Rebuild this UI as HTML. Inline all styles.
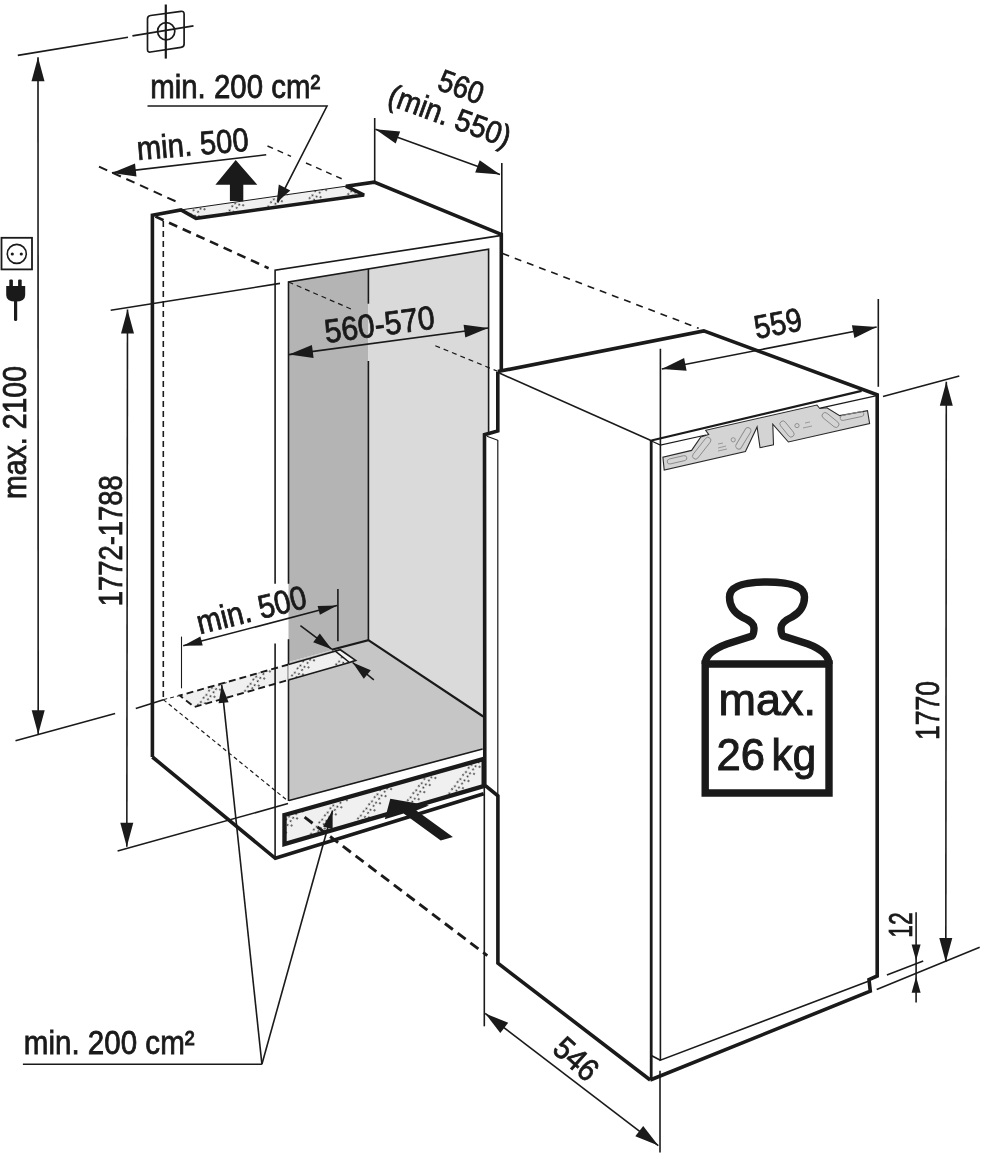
<!DOCTYPE html>
<html><head><meta charset="utf-8">
<style>
html,body{margin:0;padding:0;background:#fff;width:983px;height:1160px;overflow:hidden}
svg{display:block;will-change:transform}
text{font-family:"Liberation Sans",sans-serif;fill:#1a1a1a}
</style></head><body>
<svg width="983" height="1160" viewBox="0 0 983 1160">
<defs>
<pattern id="dots" width="28" height="9" patternUnits="userSpaceOnUse" patternTransform="rotate(38)">
<rect width="28" height="9" fill="#f0f0f0"/>
<circle cx="2" cy="1.5" r="0.95" fill="#333"/><circle cx="6.5" cy="0" r="0.95" fill="#333"/><circle cx="6.5" cy="5" r="0.95" fill="#333"/><circle cx="2.5" cy="6.5" r="0.95" fill="#333"/><circle cx="10" cy="3" r="0.95" fill="#333"/><circle cx="6.5" cy="9" r="0.95" fill="#333"/>
</pattern>
</defs>
<polygon points="288.5,282.0 368.4,269.0 368.4,640.2 288.5,662.0" fill="#b4b4b4"/>
<polygon points="368.4,269.0 488.6,249.3 488.6,720.0 368.4,640.2" fill="#dadada"/>
<polygon points="288.5,662.0 368.4,640.2 488.0,719.5 488.0,748.0 288.5,801.0" fill="#c6c6c6"/>
<polygon points="497.8,371.6 651.7,440.0 651.7,1080.0 497.9,963.0 497.9,796.0 484.8,785.0 484.3,434.7 497.8,431.0" fill="#fff"/>
<polygon points="181.0,209.9 346.0,186.2 364.0,195.0 196.0,218.3" fill="url(#dots)"/>
<polygon points="179.8,695.5 336.5,650.0 353.0,661.5 194.3,707.0" fill="url(#dots)"/>
<polygon points="284.5,815.0 483.7,759.0 483.7,786.0 284.5,844.0" fill="url(#dots)"/>
<path d="M17.8,55.4 L128.0,37.2" fill="none" stroke="#1a1a1a" stroke-width="1.6" stroke-linecap="butt" stroke-linejoin="miter" stroke-miterlimit="2.5"/>
<path d="M132.4,35.8 L193.5,25.9" fill="none" stroke="#1a1a1a" stroke-width="1.8" stroke-linecap="butt" stroke-linejoin="miter" stroke-miterlimit="2.5"/>
<path d="M165.8,4.5 L165.8,58.6" fill="none" stroke="#1a1a1a" stroke-width="2.2" stroke-linecap="butt" stroke-linejoin="miter" stroke-miterlimit="2.5"/>
<path d="M150.5,15.5 L181,11.3 Q184.1,10.9 184.1,14 L184.1,44 Q184.1,47 181,47.3 L150.5,52 Q147.5,52.4 147.5,49.4 L147.5,18.9 Q147.5,15.9 150.5,15.5 Z" fill="none" stroke="#1a1a1a" stroke-width="1.7"/>
<circle cx="166.2" cy="31.3" r="8.6" fill="none" stroke="#1a1a1a" stroke-width="1.7"/>
<path d="M38.0,57.2 L38.2,734.3" fill="none" stroke="#1a1a1a" stroke-width="1.6" stroke-linecap="butt" stroke-linejoin="miter" stroke-miterlimit="2.5"/>
<polygon points="38.0,57.2 31.5,81.2 44.5,81.2" fill="#1a1a1a"/>
<polygon points="38.2,734.3 44.7,710.3 31.7,710.3" fill="#1a1a1a"/>
<path d="M15.5,740.7 L115.1,713.5" fill="none" stroke="#1a1a1a" stroke-width="1.6" stroke-linecap="butt" stroke-linejoin="miter" stroke-miterlimit="2.5"/>
<path d="M135.8,708.4 L163.4,699.7" fill="none" stroke="#1a1a1a" stroke-width="1.6" stroke-linecap="butt" stroke-linejoin="miter" stroke-miterlimit="2.5"/>
<text transform="translate(26.0,499.0) rotate(-90)" font-size="33" textLength="133" lengthAdjust="spacingAndGlyphs" stroke="#1a1a1a" stroke-width="0.8" >max. 2100</text>
<rect x="1.5" y="237.8" width="30.5" height="31.6" fill="none" stroke="#1a1a1a" stroke-width="1.8"/>
<circle cx="16.8" cy="253.9" r="9.5" fill="none" stroke="#1a1a1a" stroke-width="1.6"/>
<circle cx="12.3" cy="254" r="1.6" fill="#1a1a1a"/><circle cx="21.3" cy="254" r="1.6" fill="#1a1a1a"/>
<rect x="9.3" y="279.4" width="3.6" height="9" rx="1.2" fill="#1a1a1a"/><rect x="18.1" y="279.4" width="3.6" height="9" rx="1.2" fill="#1a1a1a"/>
<path d="M6.2,286 L25.2,286 L25.2,295 Q25.2,301.6 15.7,301.6 Q6.2,301.6 6.2,295 Z" fill="#1a1a1a"/>
<rect x="14" y="299" width="3.2" height="22" rx="1.6" fill="#1a1a1a"/>
<path d="M127.5,309.5 L126.8,846.8" fill="none" stroke="#1a1a1a" stroke-width="1.6" stroke-linecap="butt" stroke-linejoin="miter" stroke-miterlimit="2.5"/>
<polygon points="127.5,309.5 121.0,333.5 134.0,333.5" fill="#1a1a1a"/>
<polygon points="126.8,846.8 133.3,822.8 120.3,822.8" fill="#1a1a1a"/>
<path d="M110.7,310.3 L280.0,283.4" fill="none" stroke="#1a1a1a" stroke-width="1.6" stroke-linecap="butt" stroke-linejoin="miter" stroke-miterlimit="2.5"/>
<path d="M117.6,851.1 L288.0,803.6" fill="none" stroke="#1a1a1a" stroke-width="1.6" stroke-linecap="butt" stroke-linejoin="miter" stroke-miterlimit="2.5"/>
<text transform="translate(121.6,606.2) rotate(-90)" font-size="34" textLength="131" lengthAdjust="spacingAndGlyphs" stroke="#1a1a1a" stroke-width="0.8" >1772-1788</text>
<path d="M147.5,106.0 L327.0,106.0 L277.7,202.6" fill="none" stroke="#1a1a1a" stroke-width="1.6" stroke-linecap="butt" stroke-linejoin="miter" stroke-miterlimit="2.5"/>
<polygon points="276.7,202.5 290.3,190.4 278.8,184.4" fill="#1a1a1a"/>
<text transform="translate(150.2,97.6)" font-size="33" textLength="170" lengthAdjust="spacingAndGlyphs" stroke="#1a1a1a" stroke-width="0.8" >min. 200 cm²</text>
<path d="M111.9,172.9 L266.2,154.8" fill="none" stroke="#1a1a1a" stroke-width="1.6" stroke-linecap="butt" stroke-linejoin="miter" stroke-miterlimit="2.5"/>
<polygon points="111.9,172.9 136.5,176.6 135.0,163.6" fill="#1a1a1a"/>
<path d="M99.0,166.6 L178.5,202.6" fill="none" stroke="#1a1a1a" stroke-width="2.0" stroke-dasharray="9,6" stroke-linecap="butt" stroke-linejoin="miter" stroke-miterlimit="2.5"/>
<path d="M267.5,146.0 L291.0,156.4" fill="none" stroke="#1a1a1a" stroke-width="1.4" stroke-dasharray="6,5" stroke-linecap="butt" stroke-linejoin="miter" stroke-miterlimit="2.5"/>
<path d="M306.0,163.0 L343.8,179.7" fill="none" stroke="#1a1a1a" stroke-width="1.4" stroke-dasharray="6,5" stroke-linecap="butt" stroke-linejoin="miter" stroke-miterlimit="2.5"/>
<text transform="translate(137.8,159.9) rotate(-4.7)" font-size="33" textLength="112" lengthAdjust="spacingAndGlyphs" stroke="#1a1a1a" stroke-width="0.8" >min. 500</text>
<polygon points="235.7,160.0 257.3,184.8 243.3,184.8 243.3,201.0 229.9,201.0 229.9,184.8 215.4,184.8" fill="#1a1a1a"/>
<path d="M374.7,118.0 L374.7,182.0" fill="none" stroke="#1a1a1a" stroke-width="1.6" stroke-linecap="butt" stroke-linejoin="miter" stroke-miterlimit="2.5"/>
<path d="M501.8,163.0 L501.8,234.0" fill="none" stroke="#1a1a1a" stroke-width="1.6" stroke-linecap="butt" stroke-linejoin="miter" stroke-miterlimit="2.5"/>
<path d="M375.4,129.3 L500.0,174.6" fill="none" stroke="#1a1a1a" stroke-width="1.6" stroke-linecap="butt" stroke-linejoin="miter" stroke-miterlimit="2.5"/>
<polygon points="375.4,129.3 395.7,143.6 400.2,131.4" fill="#1a1a1a"/>
<polygon points="500.0,174.6 479.7,160.3 475.2,172.5" fill="#1a1a1a"/>
<text transform="translate(436.0,89.0) rotate(20)" font-size="31" textLength="46" lengthAdjust="spacingAndGlyphs" stroke="#1a1a1a" stroke-width="0.8" >560</text>
<text transform="translate(386.0,104.0) rotate(20)" font-size="31" textLength="128" lengthAdjust="spacingAndGlyphs" stroke="#1a1a1a" stroke-width="0.8" >(min. 550)</text>
<path d="M181.0,209.9 L346.0,186.2" fill="none" stroke="#1a1a1a" stroke-width="1.0" stroke-linecap="butt" stroke-linejoin="miter" stroke-miterlimit="2.5"/>
<path d="M152.4,757.0 L152.4,215.2 L181.0,209.9 L196.0,218.3 L364.0,195.0 L346.0,186.2 L374.2,182.2 L501.3,234.4 L501.3,370.0" fill="none" stroke="#1a1a1a" stroke-width="3.6" stroke-linecap="butt" stroke-linejoin="miter" stroke-miterlimit="2.5"/>
<path d="M155.4,216.5 L268.6,268.2" fill="none" stroke="#1a1a1a" stroke-width="2.6" stroke-dasharray="9,6" stroke-linecap="butt" stroke-linejoin="miter" stroke-miterlimit="2.5"/>
<path d="M163.3,221.0 L163.3,699.6" fill="none" stroke="#1a1a1a" stroke-width="1.6" stroke-dasharray="6,4" stroke-linecap="butt" stroke-linejoin="miter" stroke-miterlimit="2.5"/>
<path d="M163.3,699.6 L288.0,801.0" fill="none" stroke="#1a1a1a" stroke-width="1.2" stroke-dasharray="4,3" stroke-linecap="butt" stroke-linejoin="miter" stroke-miterlimit="2.5"/>
<path d="M163.3,699.6 L180.0,695.5" fill="none" stroke="#1a1a1a" stroke-width="1.0" stroke-dasharray="4,3" stroke-linecap="butt" stroke-linejoin="miter" stroke-miterlimit="2.5"/>
<path d="M502.6,253.5 L698.7,328.3" fill="none" stroke="#1a1a1a" stroke-width="1.6" stroke-dasharray="7,6" stroke-linecap="butt" stroke-linejoin="miter" stroke-miterlimit="2.5"/>
<path d="M288.5,583.8 L288.5,282.0 L488.6,249.3 L488.6,435.0" fill="none" stroke="#1a1a1a" stroke-width="1.6" stroke-linecap="butt" stroke-linejoin="miter" stroke-miterlimit="2.5"/>
<path d="M288.5,639.2 L288.5,801.0" fill="none" stroke="#1a1a1a" stroke-width="1.6" stroke-linecap="butt" stroke-linejoin="miter" stroke-miterlimit="2.5"/>
<path d="M368.4,269.0 L368.4,303.7" fill="none" stroke="#1a1a1a" stroke-width="1.6" stroke-linecap="butt" stroke-linejoin="miter" stroke-miterlimit="2.5"/>
<path d="M368.4,361.0 L368.4,640.2" fill="none" stroke="#1a1a1a" stroke-width="1.6" stroke-linecap="butt" stroke-linejoin="miter" stroke-miterlimit="2.5"/>
<path d="M331.7,649.8 L368.4,640.2 L483.2,716.5" fill="none" stroke="#1a1a1a" stroke-width="2.2" stroke-linecap="butt" stroke-linejoin="miter" stroke-miterlimit="2.5"/>
<path d="M289.0,800.4 L482.6,749.0" fill="none" stroke="#1a1a1a" stroke-width="1.6" stroke-linecap="butt" stroke-linejoin="miter" stroke-miterlimit="2.5"/>
<path d="M288.5,282.0 L351.0,309.0" fill="none" stroke="#1a1a1a" stroke-width="1.2" stroke-dasharray="5,4" stroke-linecap="butt" stroke-linejoin="miter" stroke-miterlimit="2.5"/>
<path d="M435.3,345.7 L497.0,371.0" fill="none" stroke="#1a1a1a" stroke-width="1.2" stroke-dasharray="5,4" stroke-linecap="butt" stroke-linejoin="miter" stroke-miterlimit="2.5"/>
<path d="M289.0,354.6 L488.2,328.0" fill="none" stroke="#1a1a1a" stroke-width="1.6" stroke-linecap="butt" stroke-linejoin="miter" stroke-miterlimit="2.5"/>
<polygon points="289.0,354.6 313.6,357.9 311.9,345.0" fill="#1a1a1a"/>
<polygon points="488.2,328.0 463.6,324.7 465.3,337.6" fill="#1a1a1a"/>
<text transform="translate(326.0,343.0) rotate(-7.6)" font-size="33" textLength="111" lengthAdjust="spacingAndGlyphs" stroke="#1a1a1a" stroke-width="0.8" >560-570</text>
<path d="M288.5,664.5 L179.8,695.5 L194.3,707.0 L288.5,680.0" fill="none" stroke="#1a1a1a" stroke-width="1.9" stroke-dasharray="7,4" stroke-linecap="butt" stroke-linejoin="miter" stroke-miterlimit="2.5"/>
<polygon points="288.5,664.5 340.3,649.8 355.6,660.4 349.5,662.5 288.5,680.0" fill="#f4f4f4"/>
<polygon points="288.5,664.5 335.0,650.8 349.5,662.5 288.5,680.0" fill="url(#dots)"/>
<path d="M288.5,664.5 L340.3,649.8 L355.6,660.4 L349.5,662.5 L288.5,680.0" fill="none" stroke="#1a1a1a" stroke-width="1.7" stroke-linecap="butt" stroke-linejoin="miter" stroke-miterlimit="2.5"/>
<path d="M335.0,650.8 L349.5,662.5" fill="none" stroke="#1a1a1a" stroke-width="1.5" stroke-linecap="butt" stroke-linejoin="miter" stroke-miterlimit="2.5"/>
<path d="M275.1,858.3 L275.1,643.4" fill="none" stroke="#1a1a1a" stroke-width="1.6" stroke-linecap="butt" stroke-linejoin="miter" stroke-miterlimit="2.5"/>
<path d="M275.1,583.8 L275.1,270.2 L500.2,235.6" fill="none" stroke="#1a1a1a" stroke-width="1.6" stroke-linecap="butt" stroke-linejoin="miter" stroke-miterlimit="2.5"/>
<path d="M181.5,636.6 L181.5,688.3" fill="none" stroke="#1a1a1a" stroke-width="1.1" stroke-linecap="butt" stroke-linejoin="miter" stroke-miterlimit="2.5"/>
<path d="M337.9,589.0 L337.9,641.2" fill="none" stroke="#1a1a1a" stroke-width="1.6" stroke-linecap="butt" stroke-linejoin="miter" stroke-miterlimit="2.5"/>
<path d="M183.2,645.8 L337.1,605.6" fill="none" stroke="#1a1a1a" stroke-width="1.6" stroke-linecap="butt" stroke-linejoin="miter" stroke-miterlimit="2.5"/>
<polygon points="183.2,645.8 202.7,645.4 200.4,636.6" fill="#1a1a1a"/>
<polygon points="337.1,605.6 317.6,606.0 319.9,614.8" fill="#1a1a1a"/>
<text transform="translate(199.8,634.3) rotate(-13.9)" font-size="33" textLength="112" lengthAdjust="spacingAndGlyphs" stroke="#1a1a1a" stroke-width="0.8" >min. 500</text>
<path d="M300.4,625.6 L331.7,649.2" fill="none" stroke="#1a1a1a" stroke-width="1.6" stroke-linecap="butt" stroke-linejoin="miter" stroke-miterlimit="2.5"/>
<polygon points="331.7,649.2 319.8,633.4 313.2,642.2" fill="#1a1a1a"/>
<path d="M373.8,679.8 L352.6,662.5" fill="none" stroke="#1a1a1a" stroke-width="1.6" stroke-linecap="butt" stroke-linejoin="miter" stroke-miterlimit="2.5"/>
<polygon points="352.6,662.5 363.8,678.8 370.8,670.3" fill="#1a1a1a"/>
<path d="M261.9,1064.2 L221.7,684.9" fill="none" stroke="#1a1a1a" stroke-width="1.6" stroke-linecap="butt" stroke-linejoin="miter" stroke-miterlimit="2.5"/>
<polygon points="221.7,684.9 218.6,703.3 228.6,702.3" fill="#1a1a1a"/>
<path d="M284.5,815.0 L483.7,759.0 L483.7,786.0 L284.5,844.0 Z" fill="none" stroke="#1a1a1a" stroke-width="4.4" stroke-linecap="butt" stroke-linejoin="miter" stroke-miterlimit="2.5"/>
<path d="M152.4,757.0 L275.3,858.3 L483.7,793.7" fill="none" stroke="#1a1a1a" stroke-width="3.6" stroke-linecap="butt" stroke-linejoin="miter" stroke-miterlimit="2.5"/>
<path d="M304.6,817.2 L487.3,955.6" fill="none" stroke="#1a1a1a" stroke-width="2.9" stroke-dasharray="10,6" stroke-linecap="butt" stroke-linejoin="miter" stroke-miterlimit="2.5"/>
<path d="M261.9,1064.2 L332.6,810.5" fill="none" stroke="#1a1a1a" stroke-width="1.6" stroke-linecap="butt" stroke-linejoin="miter" stroke-miterlimit="2.5"/>
<polygon points="332.6,810.5 323.0,826.5 332.6,829.2" fill="#1a1a1a"/>
<polygon points="390.3,798.8 429.0,805.4 416.3,810.5 452.9,837.0 440.7,840.5 403.6,813.6 384.8,819.2" fill="#1a1a1a"/>
<path d="M22.9,1064.2 L261.9,1064.2" fill="none" stroke="#1a1a1a" stroke-width="1.6" stroke-linecap="butt" stroke-linejoin="miter" stroke-miterlimit="2.5"/>
<text transform="translate(23.8,1054.0)" font-size="33" textLength="170.8" lengthAdjust="spacingAndGlyphs" stroke="#1a1a1a" stroke-width="0.8" >min. 200 cm²</text>
<path d="M497.8,371.6 L703.8,330.9 L877.2,394.7 L877.2,976.0 L869.0,979.7 L870.3,991.2 L650.2,1080.0" fill="none" stroke="#1a1a1a" stroke-width="3.6" stroke-linecap="butt" stroke-linejoin="miter" stroke-miterlimit="2.5"/>
<path d="M497.8,371.6 L497.8,431.0 L484.5,434.7 L484.8,785.2 L497.9,795.8 L497.9,963.2 L650.2,1080.0" fill="none" stroke="#1a1a1a" stroke-width="3.6" stroke-linecap="butt" stroke-linejoin="miter" stroke-miterlimit="2.5"/>
<path d="M651.2,440.0 L651.2,1080.0" fill="none" stroke="#1a1a1a" stroke-width="2.8" stroke-linecap="butt" stroke-linejoin="miter" stroke-miterlimit="2.5"/>
<path d="M651.4,440.5 L861.6,390.8" fill="none" stroke="#1a1a1a" stroke-width="2.3" stroke-linecap="butt" stroke-linejoin="miter" stroke-miterlimit="2.5"/>
<path d="M499.3,373.1 L651.0,440.5" fill="none" stroke="#1a1a1a" stroke-width="1.6" stroke-linecap="butt" stroke-linejoin="miter" stroke-miterlimit="2.5"/>
<path d="M497.8,440.0 L497.8,796.0" fill="none" stroke="#1a1a1a" stroke-width="1.2" stroke-linecap="butt" stroke-linejoin="miter" stroke-miterlimit="2.5"/>
<path d="M486.9,436.2 L497.8,440.3" fill="none" stroke="#1a1a1a" stroke-width="1.2" stroke-linecap="butt" stroke-linejoin="miter" stroke-miterlimit="2.5"/>
<path d="M660.4,348.7 L660.4,1060.2 L869.0,981.0" fill="none" stroke="#1a1a1a" stroke-width="1.6" stroke-linecap="butt" stroke-linejoin="miter" stroke-miterlimit="2.5"/>
<path d="M651.3,1055.5 L660.4,1060.2" fill="none" stroke="#1a1a1a" stroke-width="1.6" stroke-linecap="butt" stroke-linejoin="miter" stroke-miterlimit="2.5"/>
<path d="M651.5,441.0 L660.4,445.0 L706.0,435.0" fill="none" stroke="#1a1a1a" stroke-width="1.2" stroke-linecap="butt" stroke-linejoin="miter" stroke-miterlimit="2.5"/>
<path d="M820.2,408.1 L876.8,395.7" fill="none" stroke="#1a1a1a" stroke-width="1.2" stroke-linecap="butt" stroke-linejoin="miter" stroke-miterlimit="2.5"/>
<polygon points="664.2,470.0 662.9,457.1 691.6,450.4 700.8,437.0 708.7,434.5 705.7,430.3 816.9,405.0 819.8,408.5 826.9,407.8 839.7,415.6 867.5,410.6 869.6,423.5 788.4,442.0 772.8,424.2 773.5,444.8 760.0,447.7 757.1,427.0 745.4,451.6" fill="#d4d4d4" stroke="#2a2a2a" stroke-width="1.1"/>
<rect x="-13.0" y="-3.0" width="26.0" height="6.0" rx="3.0" transform="translate(701.7,448.2) rotate(-52)" fill="none" stroke="#8a8a8a" stroke-width="0.9"/>
<rect x="-12.0" y="-3.0" width="24.0" height="6.0" rx="3.0" transform="translate(743.4,438.3) rotate(-59)" fill="none" stroke="#8a8a8a" stroke-width="0.9"/>
<rect x="-9.5" y="-3.0" width="19.0" height="6.0" rx="3.0" transform="translate(787,429) rotate(51)" fill="none" stroke="#8a8a8a" stroke-width="0.9"/>
<rect x="-10.0" y="-3.0" width="20.0" height="6.0" rx="3.0" transform="translate(830.5,420) rotate(39)" fill="none" stroke="#8a8a8a" stroke-width="0.9"/>
<rect x="-10.0" y="-2.5" width="20.0" height="5.0" rx="2.5" transform="translate(677,459.8) rotate(-13)" fill="none" stroke="#8a8a8a" stroke-width="0.9"/>
<rect x="-12.0" y="-2.5" width="24.0" height="5.0" rx="2.5" transform="translate(852,416) rotate(-12)" fill="none" stroke="#8a8a8a" stroke-width="0.9"/>
<circle cx="733.2" cy="439.8" r="2.1" fill="none" stroke="#8a8a8a" stroke-width="0.9"/>
<circle cx="797" cy="425.6" r="2.1" fill="none" stroke="#8a8a8a" stroke-width="0.9"/>
<path d="M718,444 l5,-1 M718,448 l8,-2 M718,451 l9,-2 M803,428 l9,-2 M805,423 l5,-1" stroke="#999" stroke-width="1"/>
<path d="M878.3,299.0 L878.3,386.8" fill="none" stroke="#1a1a1a" stroke-width="1.6" stroke-linecap="butt" stroke-linejoin="miter" stroke-miterlimit="2.5"/>
<path d="M661.8,369.0 L876.7,327.0" fill="none" stroke="#1a1a1a" stroke-width="1.6" stroke-linecap="butt" stroke-linejoin="miter" stroke-miterlimit="2.5"/>
<polygon points="661.8,369.0 686.6,370.8 684.1,358.0" fill="#1a1a1a"/>
<polygon points="876.7,327.0 851.9,325.2 854.4,338.0" fill="#1a1a1a"/>
<text transform="translate(756.5,339.0) rotate(-11)" font-size="33" textLength="48" lengthAdjust="spacingAndGlyphs" stroke="#1a1a1a" stroke-width="0.8" >559</text>
<path d="M883.0,396.5 L959.3,376.1" fill="none" stroke="#1a1a1a" stroke-width="1.6" stroke-linecap="butt" stroke-linejoin="miter" stroke-miterlimit="2.5"/>
<path d="M876.7,989.4 L979.7,947.2" fill="none" stroke="#1a1a1a" stroke-width="1.6" stroke-linecap="butt" stroke-linejoin="miter" stroke-miterlimit="2.5"/>
<path d="M886.9,975.0 L923.2,961.1" fill="none" stroke="#1a1a1a" stroke-width="1.6" stroke-linecap="butt" stroke-linejoin="miter" stroke-miterlimit="2.5"/>
<path d="M946.3,381.7 L945.8,962.0" fill="none" stroke="#1a1a1a" stroke-width="1.6" stroke-linecap="butt" stroke-linejoin="miter" stroke-miterlimit="2.5"/>
<polygon points="946.3,381.7 939.8,405.7 952.8,405.7" fill="#1a1a1a"/>
<polygon points="945.8,962.0 952.3,938.0 939.3,938.0" fill="#1a1a1a"/>
<text transform="translate(939.3,740.0) rotate(-90)" font-size="34" textLength="59" lengthAdjust="spacingAndGlyphs" stroke="#1a1a1a" stroke-width="0.8" >1770</text>
<path d="M916.1,912.3 L916.1,1002.6" fill="none" stroke="#1a1a1a" stroke-width="1.6" stroke-linecap="butt" stroke-linejoin="miter" stroke-miterlimit="2.5"/>
<polygon points="916.1,960.6 920.6,944.6 911.6,944.6" fill="#1a1a1a"/>
<polygon points="916.1,976.7 911.6,992.7 920.6,992.7" fill="#1a1a1a"/>
<text transform="translate(912.3,937.7) rotate(-90)" font-size="34" textLength="25.4" lengthAdjust="spacingAndGlyphs" stroke="#1a1a1a" stroke-width="0.8" >12</text>
<path d="M484.3,785.0 L484.3,1026.3" fill="none" stroke="#1a1a1a" stroke-width="1.6" stroke-linecap="butt" stroke-linejoin="miter" stroke-miterlimit="2.5"/>
<path d="M660.0,1070.7 L660.0,1152.6" fill="none" stroke="#1a1a1a" stroke-width="1.6" stroke-linecap="butt" stroke-linejoin="miter" stroke-miterlimit="2.5"/>
<path d="M485.2,1013.4 L658.3,1145.6" fill="none" stroke="#1a1a1a" stroke-width="1.6" stroke-linecap="butt" stroke-linejoin="miter" stroke-miterlimit="2.5"/>
<polygon points="485.2,1013.4 500.3,1033.1 508.2,1022.8" fill="#1a1a1a"/>
<polygon points="658.3,1145.6 643.2,1125.9 635.3,1136.2" fill="#1a1a1a"/>
<text transform="translate(551.0,1051.0) rotate(42)" font-size="32" textLength="48" lengthAdjust="spacingAndGlyphs" stroke="#1a1a1a" stroke-width="0.8" >546</text>
<path d="M705.2,664 L705.2,793 L829,793 L829,664 Z" fill="none" stroke="#1a1a1a" stroke-width="7.4"/>
<path d="M705.2,664 Q705.2,652 727,644 L752,636 Q754,634 754,628 Q754,622 742,617 Q729.5,610 729.5,597 Q729.5,582 767,582 Q804.5,582 804.5,597 Q804.5,610 792,617 Q781,622 781,628 Q781,634 783,636 L808,644 Q829,652 829,664" fill="none" stroke="#1a1a1a" stroke-width="7.4"/>
<text transform="translate(718.6,714.8)" font-size="45" textLength="97.5" lengthAdjust="spacingAndGlyphs" stroke="#1a1a1a" stroke-width="1.0" >max.</text>
<text transform="translate(716.6,769.7)" font-size="44" textLength="48.5" lengthAdjust="spacingAndGlyphs" stroke="#1a1a1a" stroke-width="1.0" >26</text>
<text transform="translate(771.6,769.7)" font-size="44" textLength="44.5" lengthAdjust="spacingAndGlyphs" stroke="#1a1a1a" stroke-width="1.0" >kg</text>
</svg></body></html>
